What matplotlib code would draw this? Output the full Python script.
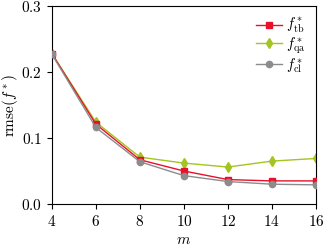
import matplotlib
matplotlib.use("Agg")
import matplotlib.pyplot as plt
from matplotlib.ticker import FuncFormatter

plt.rcParams['mathtext.fontset'] = 'cm'
plt.rcParams['font.family'] = ['DejaVu Serif']
plt.rcParams['font.size'] = 10.5

m = [4, 6, 8, 10, 12, 14, 16]
f_tb = [0.228, 0.121, 0.067, 0.050, 0.037, 0.035, 0.035]
f_qa = [0.228, 0.124, 0.071, 0.062, 0.056, 0.065, 0.069]
f_cl = [0.227, 0.116, 0.064, 0.043, 0.034, 0.030, 0.029]
labels = [r'$f^*_{\mathrm{tb}}$', r'$f^*_{\mathrm{qa}}$', r'$f^*_{\mathrm{cl}}$']
xticks = [4, 6, 8, 10, 12, 14, 16]
yticks = [0.0, 0.1, 0.2, 0.3]

fig = plt.figure(figsize=(3.24, 2.5), dpi=100)
ax = fig.add_axes([0.160, 0.184, 0.815, 0.792])

ax.plot(m, f_tb, color='#e8102a', marker='s', ms=4.5, lw=1.0, label=labels[0], zorder=3)
ax.plot(m, f_qa, color='#a3c520', marker='d', ms=5, lw=1.0, label=labels[1], zorder=2)
ax.plot(m, f_cl, color='#8c8c8c', marker='o', ms=4.5, lw=1.0, label=labels[2], zorder=4)

ax.set_xlim(4, 16)
ax.set_ylim(0, 0.3)
ax.set_xticks(xticks)
ax.set_yticks(yticks)
ax.xaxis.set_major_formatter(FuncFormatter(lambda v, p: r'$%d$' % v))
ax.yaxis.set_major_formatter(FuncFormatter(lambda v, p: r'$%.1f$' % v))
ax.tick_params(direction='out', length=3.5, width=0.8, labelsize=11)
ax.set_xlabel(r'$m$', fontsize=11, labelpad=3)
ax.set_ylabel(r'$\mathrm{rmse}(f^*)$', fontsize=11, labelpad=0.5)
for s in ax.spines.values():
    s.set_linewidth(0.8)

ax.legend(loc='upper right', frameon=False, fontsize=10.5, handlelength=1.75,
          handletextpad=0.3, borderaxespad=0.4, labelspacing=0.0,
          borderpad=0.3)

fig.savefig('out.png', dpi=100)
